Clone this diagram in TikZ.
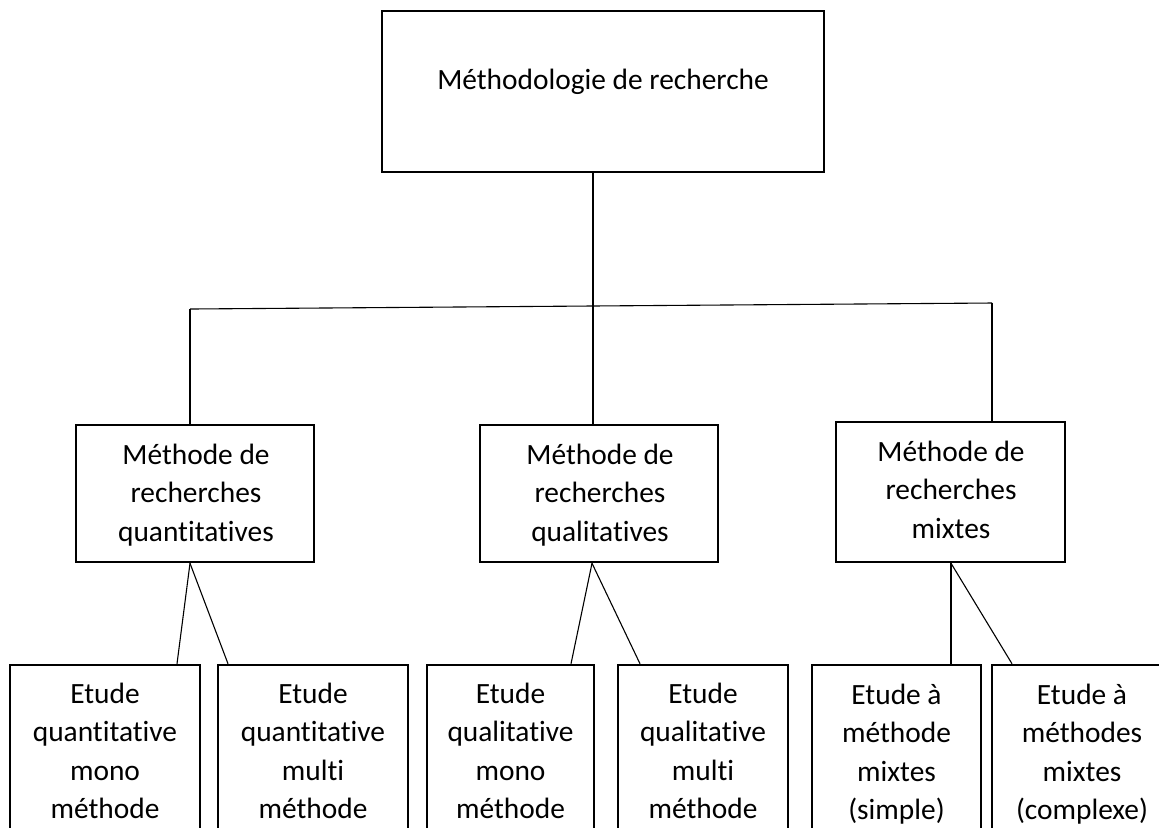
\documentclass[tikz,border=0pt]{standalone}
\usepackage{fontspec}
\setmainfont{Carlito}[Ligatures={NoCommon}]
\usetikzlibrary{calc}
\begin{document}
\begin{tikzpicture}[x=0.5pt, y=-0.5pt,
  box/.style={draw, line width=1.25pt, inner sep=0pt},
  boxtext/.style={align=center, inner sep=0pt, anchor=base,
    font=\fontsize{14.7pt}{19.25pt}\selectfont},
  link/.style={line width=0.55pt}]
\useasboundingbox (0,0) rectangle (1159,827);
\clip (0,0) rectangle (1159,827);

% boxes
\node[box, minimum width=221pt, minimum height=80.5pt] (top) at (603,91.5) {};
\node[box, minimum width=119pt, minimum height=68.5pt] (mid1) at (195,493.5) {};
\node[box, minimum width=119pt, minimum height=68.5pt] (mid2) at (599,493.5) {};
\node[box, minimum width=114.5pt, minimum height=70pt] (mid3) at (950.5,492) {};
\node[box, minimum width=95pt, minimum height=117.5pt] (b1) at (105,782.5) {};
\node[box, minimum width=95pt, minimum height=117.5pt] (b2) at (313,782.5) {};
\node[box, minimum width=83.5pt, minimum height=117.5pt] (b3) at (510.5,782.5) {};
\node[box, minimum width=85pt, minimum height=117.5pt] (b4) at (703,782.5) {};
\node[box, minimum width=84.5pt, minimum height=117.5pt] (b5) at (896.5,782.5) {};
\node[box, minimum width=90pt, minimum height=117.5pt] (b6) at (1082,782.5) {};

% texts (anchored on the baseline of their last line)
\node[boxtext] (ttop) at (603,89) {Méthodologie de recherche};
\node[boxtext] (tmid1) at (196,541) {Méthode de\\recherches\\quantitatives};
\node[boxtext] (tmid2) at (600,541) {Méthode de\\recherches\\qualitatives};
\node[boxtext] (tmid3) at (951,538) {Méthode de\\recherches\\mixtes};
\node[boxtext] (tb1) at (105,818.5) {Etude\\quantitative\\mono\\méthode};
\node[boxtext] (tb2) at (313,818.5) {Etude\\quantitative\\multi\\méthode};
\node[boxtext] (tb3) at (510.5,818.5) {Etude\\qualitative\\mono\\méthode};
\node[boxtext] (tb4) at (703,818.5) {Etude\\qualitative\\multi\\méthode};
\node[boxtext] (tb5) at (896.5,819.5) {Etude à\\méthode\\mixtes\\(simple)};
\node[boxtext] (tb6) at (1082,819.5) {Etude à\\méthodes\\mixtes\\(complexe)};

% tree connectors
\coordinate (jl) at (190,309);
\coordinate (jm) at (593,306);
\coordinate (jr) at (992,303);
\draw[link] (top.south -| jm) -- (jm |- mid2.north);
\draw[link] (jl) -- (jr);
\draw[link] (jl) -- (jl |- mid1.north);
\draw[link] (jr) -- (jr |- mid3.north);

\draw[link] ($(mid1.south)+(-5,0)$) -- ($(b1.north)+(72,0)$);
\draw[link] ($(mid1.south)+(-5,0)$) -- ($(b2.north)+(-85,0)$);
\draw[link] ($(mid2.south)+(-7,0)$) -- ($(b3.north)+(60.5,0)$);
\draw[link] ($(mid2.south)+(-7,0)$) -- ($(b4.north)+(-63,0)$);
\draw[link] ($(mid3.south)+(0.5,0)$) -- ($(b5.north)+(54.5,0)$);
\draw[link] ($(mid3.south)+(0.5,0)$) -- ($(b6.north)+(-70,0)$);
\end{tikzpicture}
\end{document}
